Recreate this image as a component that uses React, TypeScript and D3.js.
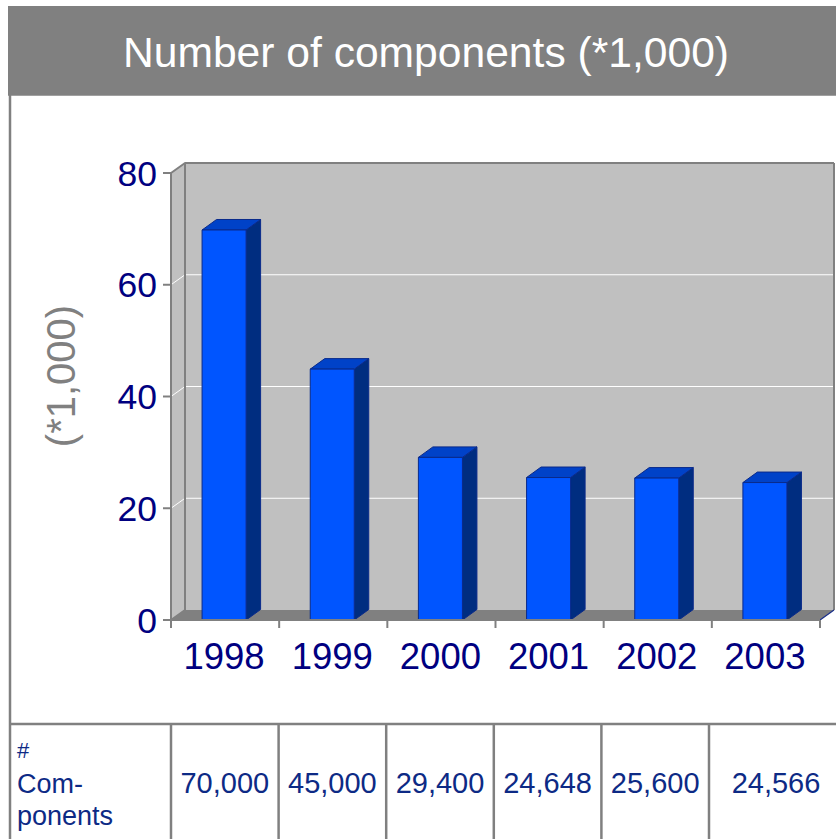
import React from "react";
import * as d3 from "d3";

const years = ["1998", "1999", "2000", "2001", "2002", "2003"];
const barValues = [69.8, 44.9, 29.1, 25.5, 25.4, 24.6];
const tableValues = ["70,000", "45,000", "29,400", "24,648", "25,600", "24,566"];
const yTicks = [0, 20, 40, 60, 80];
const titleText = "Number of components (*1,000)";
const yTitle = "(*1,000)";
const rowLabel = ["#", "Com-", "ponents"];

const FONT = "'Liberation Sans', Arial, Helvetica, sans-serif";

export default function App() {
  const W = 836, H = 839;
  const x0 = 171, x1 = 820;
  const yFront0 = 620, yFront80 = 173;
  const DX = 14, DY = 10;
  const BDX = 14.5, BDY = 10.5;

  const y = d3.scaleLinear().domain([0, 80]).range([yFront0, yFront80]);
  const xBand = d3.scaleBand<string>().domain(years).range([x0, x1]).paddingInner(0.593).paddingOuter(0.2965);
  const xStep = d3.scaleBand<string>().domain(years).range([x0, x1]).padding(0);
  const tStep = 107.6;
  const tableX = d3.scaleBand<string>().domain(years).range([x0, x0 + tStep * 6]).padding(0);
  const lastColRight = 843;

  const wallGray = "#c0c0c0";
  const edge = "#808080";

  const floor = `M${x0},${yFront0} L${x1},${yFront0} L${x1 + DX},${yFront0 - DY} L${x0 + DX},${yFront0 - DY} Z`;
  const leftWall = `M${x0},${yFront0} L${x0},${yFront80} L${x0 + DX},${yFront80 - DY} L${x0 + DX},${yFront0 - DY} Z`;
  const labelBaselines = [758, 793, 825];
  const labelSizes = [22, 27, 27];

  return (
    <svg width={W} height={H} style={{ position: "absolute", left: 0, top: 0, background: "#fff" }} fontFamily={FONT}>
      {/* title band */}
      <rect x={8} y={6} width={W} height={89} fill="#808080" />
      <line x1={8} x2={W} y1={95.5} y2={95.5} stroke="#a0a0a0" strokeWidth={1} />
      <text x={426} y={67} textAnchor="middle" fill="#ffffff" fontSize={42.6}>{titleText}</text>
      {/* frame left border */}
      <line x1={10} x2={10} y1={95} y2={H} stroke="#808080" strokeWidth={2.5} />

      {/* back wall */}
      <rect x={x0 + DX} y={yFront80 - DY} width={x1 - x0} height={yFront0 - yFront80} fill={wallGray} />
      <path d={leftWall} fill={wallGray} stroke={edge} strokeWidth={2} strokeLinejoin="round" />
      {/* gridlines */}
      {yTicks.filter(t => t > 0 && t < 80).map(t => (
        <g key={t}>
          <line x1={x0} y1={y(t)} x2={x0 + DX} y2={y(t) - DY} stroke="#ffffff" strokeWidth={1} />
          <line x1={x0 + DX} y1={y(t) - DY} x2={x1 + DX} y2={y(t) - DY} stroke="#ffffff" strokeWidth={1} />
        </g>
      ))}
      {/* wall edges */}
      <line x1={x0 + DX} y1={yFront80 - DY} x2={x1 + DX} y2={yFront80 - DY} stroke={edge} strokeWidth={2} />
      <line x1={x1 + DX} y1={yFront80 - DY} x2={x1 + DX} y2={yFront0 - DY} stroke={edge} strokeWidth={2} />
      <line x1={x0 + DX} y1={yFront80 - DY} x2={x0 + DX} y2={yFront0 - DY} stroke={edge} strokeWidth={2} />
      {/* floor */}
      <path d={floor} fill="#808080" />
      <line x1={x1} y1={yFront0} x2={x1 + DX} y2={yFront0 - DY} stroke="#1a2f8a" strokeWidth={1.2} />

      {/* bars */}
      {years.map((yr, i) => {
        const bx = (xBand(yr) as number) - 1;
        const bw = xBand.bandwidth();
        const top = y(barValues[i]);
        const bottom = y(0);
        const front = `M${bx},${bottom} L${bx},${top} L${bx + bw},${top} L${bx + bw},${bottom} Z`;
        const side = `M${bx + bw},${bottom} L${bx + bw},${top} L${bx + bw + BDX},${top - BDY} L${bx + bw + BDX},${bottom - BDY} Z`;
        const topF = `M${bx},${top} L${bx + BDX},${top - BDY} L${bx + bw + BDX},${top - BDY} L${bx + bw},${top} Z`;
        return (
          <g key={yr} stroke="#0a2a8a" strokeWidth={1} strokeLinejoin="round">
            <path d={side} fill="#002d80" />
            <path d={topF} fill="#0042c8" />
            <path d={front} fill="#0055ff" />
          </g>
        );
      })}

      {/* y axis */}
      <line x1={x0} y1={yFront80} x2={x0} y2={yFront0} stroke={edge} strokeWidth={2} />
      {yTicks.map(t => (
        <g key={t}>
          <line x1={x0 - 8} x2={x0} y1={y(t)} y2={y(t)} stroke={edge} strokeWidth={2} />
          <text x={157} y={y(t) + 12.5} textAnchor="end" fontSize={35.5} fill="#000080">{t}</text>
        </g>
      ))}
      <text transform={`translate(75,376) rotate(-90)`} textAnchor="middle" fontSize={40} fill="#808080">{yTitle}</text>

      {/* x axis */}
      <line x1={x0} x2={x1} y1={yFront0} y2={yFront0} stroke={edge} strokeWidth={2} />
      {[...years.map(yr => xStep(yr) as number), x1].map((xx, i) => (
        <line key={i} x1={xx} x2={xx} y1={yFront0} y2={yFront0 + 8} stroke={edge} strokeWidth={2} />
      ))}
      {years.map(yr => (
        <text key={yr} x={(xStep(yr) as number) + xStep.bandwidth() / 2 - 1} y={669} textAnchor="middle" fontSize={36.5} fill="#000080">{yr}</text>
      ))}

      {/* data table */}
      <line x1={10} x2={W} y1={724} y2={724} stroke={edge} strokeWidth={2.5} />
      {years.map(yr => (
        <line key={yr} x1={tableX(yr) as number} x2={tableX(yr) as number} y1={724} y2={H} stroke={edge} strokeWidth={2.5} />
      ))}
      {rowLabel.map((s, i) => (
        <text key={i} x={17} y={labelBaselines[i]} fontSize={labelSizes[i]} fill="#0d2a85">{s}</text>
      ))}
      {years.map((yr, i) => {
        const left = tableX(yr) as number;
        const right = i === years.length - 1 ? lastColRight : left + tableX.bandwidth();
        return (
          <text key={yr} x={(left + right) / 2} y={793} textAnchor="middle" fontSize={29} fill="#0d2a85">{tableValues[i]}</text>
        );
      })}
    </svg>
  );
}
